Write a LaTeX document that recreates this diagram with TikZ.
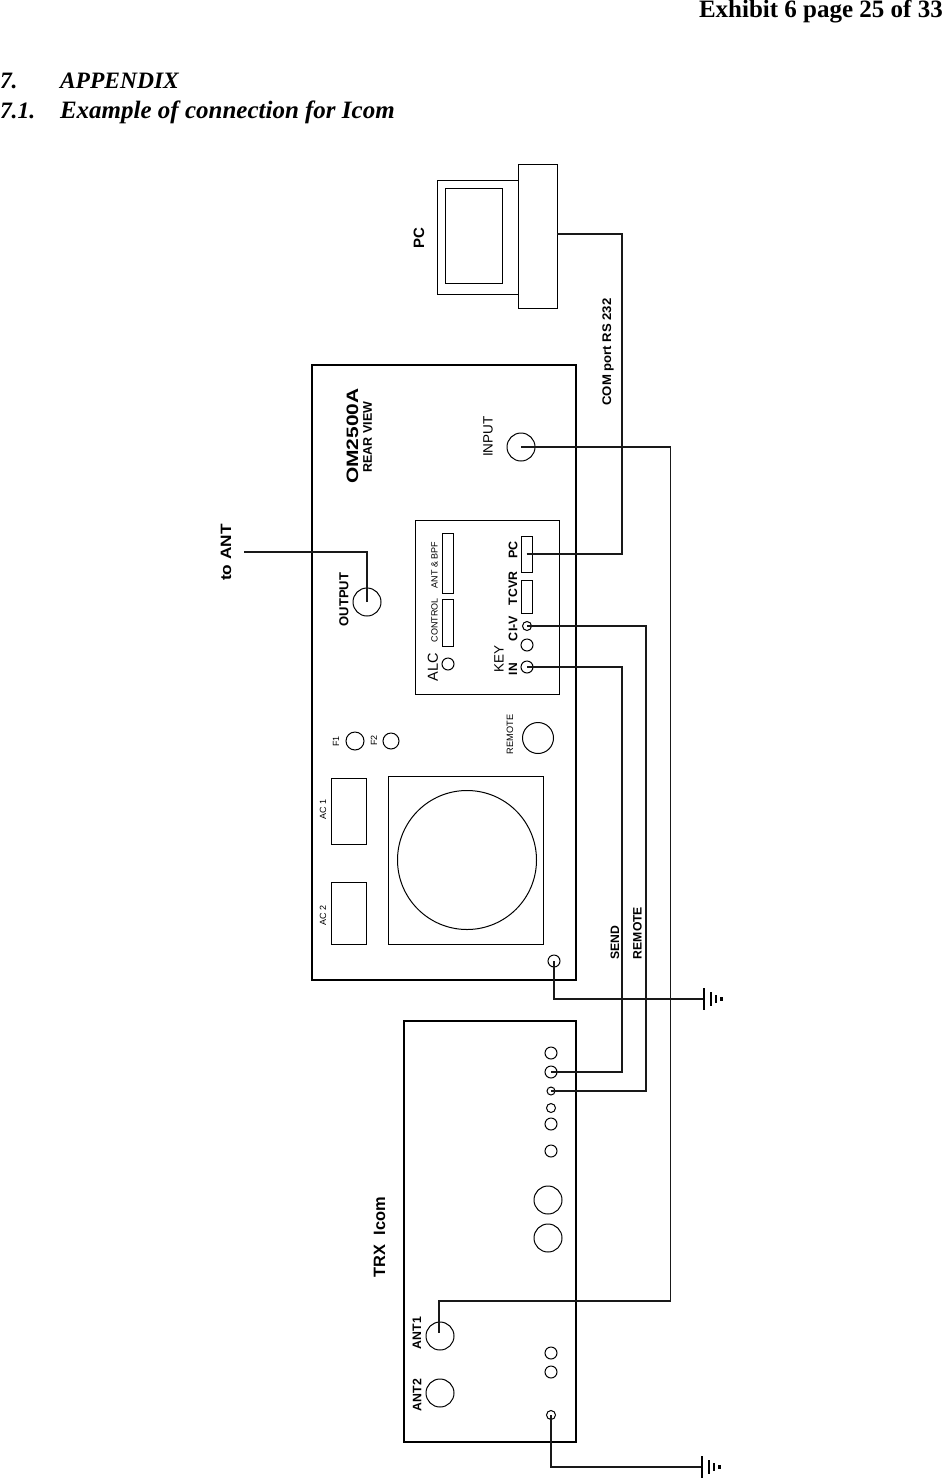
\documentclass[tikz,border=0pt]{standalone}
\usepackage{fontspec}
\usepackage{graphicx}
\setmainfont{Liberation Serif}
\setsansfont{Liberation Sans}
\newcommand\stx[2]{\scalebox{#1}[1]{#2}}
\newcommand\fs[1]{\fontsize{#1}{#1}\selectfont}
\newcommand\rbox[6][]{\node[shapebox,#1,minimum width={(#5-#3)*1pt},minimum height={(#6-#4)*1pt}] (#2) at ({(#3+#5)/2},{(#4+#6)/2}) {};}
\tikzset{
 x=1pt,y=-1pt,
 shapebox/.style={draw,rectangle,inner sep=0pt,outer sep=0pt,line width=1pt,fill=none},
 panel/.style={line width=2.2pt},
 jack/.style={draw,circle,inner sep=0pt,outer sep=0pt,line width=1pt},
 wire/.style={line width=1.2pt,line join=miter,draw=black!90},
 gbar/.style={line width=2.3pt},
 lab/.style={font=\sffamily,rotate=90,inner sep=0pt,outer sep=0pt,anchor=center,text=black},
 bold/.style={font=\sffamily\bfseries},
 head/.style={font=\rmfamily\bfseries\itshape\fs{23.5},inner sep=0pt,outer sep=0pt,anchor=base west},
}
\begin{document}
\begin{tikzpicture}
\useasboundingbox (0,0) rectangle (943,1478);
\fill[white] (0,0) rectangle (943,1478);
% headings
\node[font=\rmfamily\bfseries\fs{25},inner sep=0pt,anchor=base east] (exh) at (943,17) {Exhibit 6 page 25 of 33};
\node[head] (h1n) at (0,88) {7.};
\node[head] (h1) at (60,88) {APPENDIX};
\node[head] (h2n) at (0,118) {7.1.};
\node[head,font=\rmfamily\bfseries\itshape\fs{25}] (h2) at (60,118) {Example of connection for Icom};
% PC
\rbox{monitor}{437}{180}{518}{294}
\rbox{screen}{445}{188}{502}{283}
\rbox{tower}{518}{164}{557}{308}
\node[lab,bold] (pclab) at (419,238.5) {\fs{15}PC};
% Amplifier
\rbox[panel]{amp}{312}{365}{576}{980}
\rbox{io}{415}{520}{559}{694}
\rbox{antbpf}{442}{533}{453}{593}
\rbox{control}{442}{599}{453}{646}
\rbox{pcport}{521}{536}{532}{572}
\rbox{tcvr}{521}{580}{532}{613}
\rbox{acone}{331}{778}{366}{844}
\rbox{actwo}{331}{882}{366}{944}
\rbox{fanbox}{388}{776}{543}{944}
\node[jack,minimum size=139pt] (fan) at (467,860) {};
\node[jack,minimum size=28pt] (input) at (521,447) {};
\node[jack,minimum size=28pt] (output) at (367,602) {};
\node[jack,minimum size=9pt] (civ) at (527,626) {};
\node[jack,minimum size=12pt] (midj) at (527,645) {};
\node[jack,minimum size=12pt] (keyin) at (527,667) {};
\node[jack,minimum size=12pt] (alc) at (448,664) {};
\node[jack,minimum size=18pt] (fone) at (355,741) {};
\node[jack,minimum size=16pt] (ftwo) at (391,741) {};
\node[jack,minimum size=31pt] (remj) at (538,738) {};
\node[jack,minimum size=12pt] (gndamp) at (554,961) {};
% Amplifier labels
\node[lab,bold] (om) at (352.5,436) {\fs{16.5}\stx{1.27}{OM2500A}};
\node[lab,bold] (rear) at (367.5,437) {\fs{12.5}REAR VIEW};
\node[lab] (inlab) at (488,436.5) {\fs{13.5}INPUT};
\node[lab,bold] (outlab) at (344,599.5) {\fs{13}OUTPUT};
\node[lab] (antlab) at (434.5,565) {\fs{9}ANT \& BPF};
\node[lab] (ctllab) at (434.5,620) {\fs{9}CONTROL};
\node[lab] (alclab) at (433,667) {\fs{14.5}ALC};
\node[lab] (keylab) at (499,658.5) {\fs{13.5}KEY};
\node[lab,bold] (inport) at (513,669) {\fs{12}IN};
\node[lab,bold] (civlab) at (513,628.5) {\fs{12.5}CI-V};
\node[lab,bold] (tcvrlab) at (513,588.5) {\fs{12.3}TCVR};
\node[lab,bold] (pcportlab) at (513,550) {\fs{12.5}PC};
\node[lab] (remlab) at (510,734.5) {\fs{9.2}REMOTE};
\node[lab] (f1lab) at (336,741.5) {\fs{9}F1};
\node[lab] (f2lab) at (374,740.5) {\fs{9}F2};
\node[lab] (ac1lab) at (323,809.5) {\fs{9}AC 1};
\node[lab] (ac2lab) at (323,915.5) {\fs{9}AC 2};
% wire labels
\node[lab,bold] (sendlab) at (615,943) {\fs{12.2}SEND};
\node[lab,bold] (remotelab) at (637.5,933) {\fs{12.2}REMOTE};
\node[lab,bold] (comlab) at (608,352) {\fs{12.5}\stx{1.05}{COM port RS 232}};
\node[lab,bold] (tolab) at (226,552.5) {\fs{15}\stx{1.15}{to ANT}};
% TRX
\rbox[panel]{trx}{404}{1021}{576}{1442}
\node[jack,minimum size=12pt] (ta) at (551,1053) {};
\node[jack,minimum size=12pt] (tsend) at (551,1072) {};
\node[jack,minimum size=8pt] (trem) at (551,1091) {};
\node[jack,minimum size=9pt] (tb) at (551,1108) {};
\node[jack,minimum size=12pt] (tc) at (551,1124) {};
\node[jack,minimum size=12pt] (td) at (551,1151) {};
\node[jack,minimum size=28pt] (te) at (548,1200) {};
\node[jack,minimum size=28pt] (tf) at (548,1238) {};
\node[jack,minimum size=28pt] (ant1) at (440,1336) {};
\node[jack,minimum size=28pt] (ant2) at (440,1393) {};
\node[jack,minimum size=12pt] (tg) at (551,1353) {};
\node[jack,minimum size=12pt] (th) at (551,1372) {};
\node[jack,minimum size=9pt] (gndtrx) at (551,1415) {};
\node[lab,bold] (trxlab) at (379.5,1237) {\fs{16.4}TRX\ \ Icom};
\node[lab,bold] (ant1lab) at (417,1333) {\fs{12.3}ANT1};
\node[lab,bold] (ant2lab) at (417,1395) {\fs{12.3}ANT2};
% connectors
\coordinate (toant) at (244,552);
\draw[wire] (output.center) |- (toant);
\coordinate (pctop) at (622,234);
\coordinate (pcend) at (557,234);
\draw[wire] (pcport.center) -| (pctop) -- (pcend);
\coordinate (civx) at (646,1091);
\draw[wire] (civ.center) -| (civx) -- (trem.center);
\coordinate (sendx) at (622,1072);
\draw[wire] (keyin.center) -| (sendx) -- (tsend.center);
\coordinate (inx) at (670.5,1301);
\coordinate (antx) at (439,1301);
\coordinate (antend) at (439,1333);
\draw[wire] (input.center) -| (inx) -- (antx) -- (antend);
% grounds
\coordinate (gone) at (704,999);
\coordinate (gtwo) at (702,1467);
\draw[wire] (gndamp.center) |- (gone);
\draw[wire] (gndtrx.center) |- (gtwo);
\draw[gbar] (704,988) -- (704,1010);
\draw[gbar] (711,992) -- (711,1006);
\draw[gbar] (716,995) -- (716,1003);
\draw[gbar,line width=3pt] (721,997) -- (721,1001);
\draw[gbar] (702,1456) -- (702,1478);
\draw[gbar] (709,1460) -- (709,1474);
\draw[gbar] (714,1463) -- (714,1471);
\draw[gbar,line width=3pt] (719,1465) -- (719,1469);
\end{tikzpicture}
\end{document}
